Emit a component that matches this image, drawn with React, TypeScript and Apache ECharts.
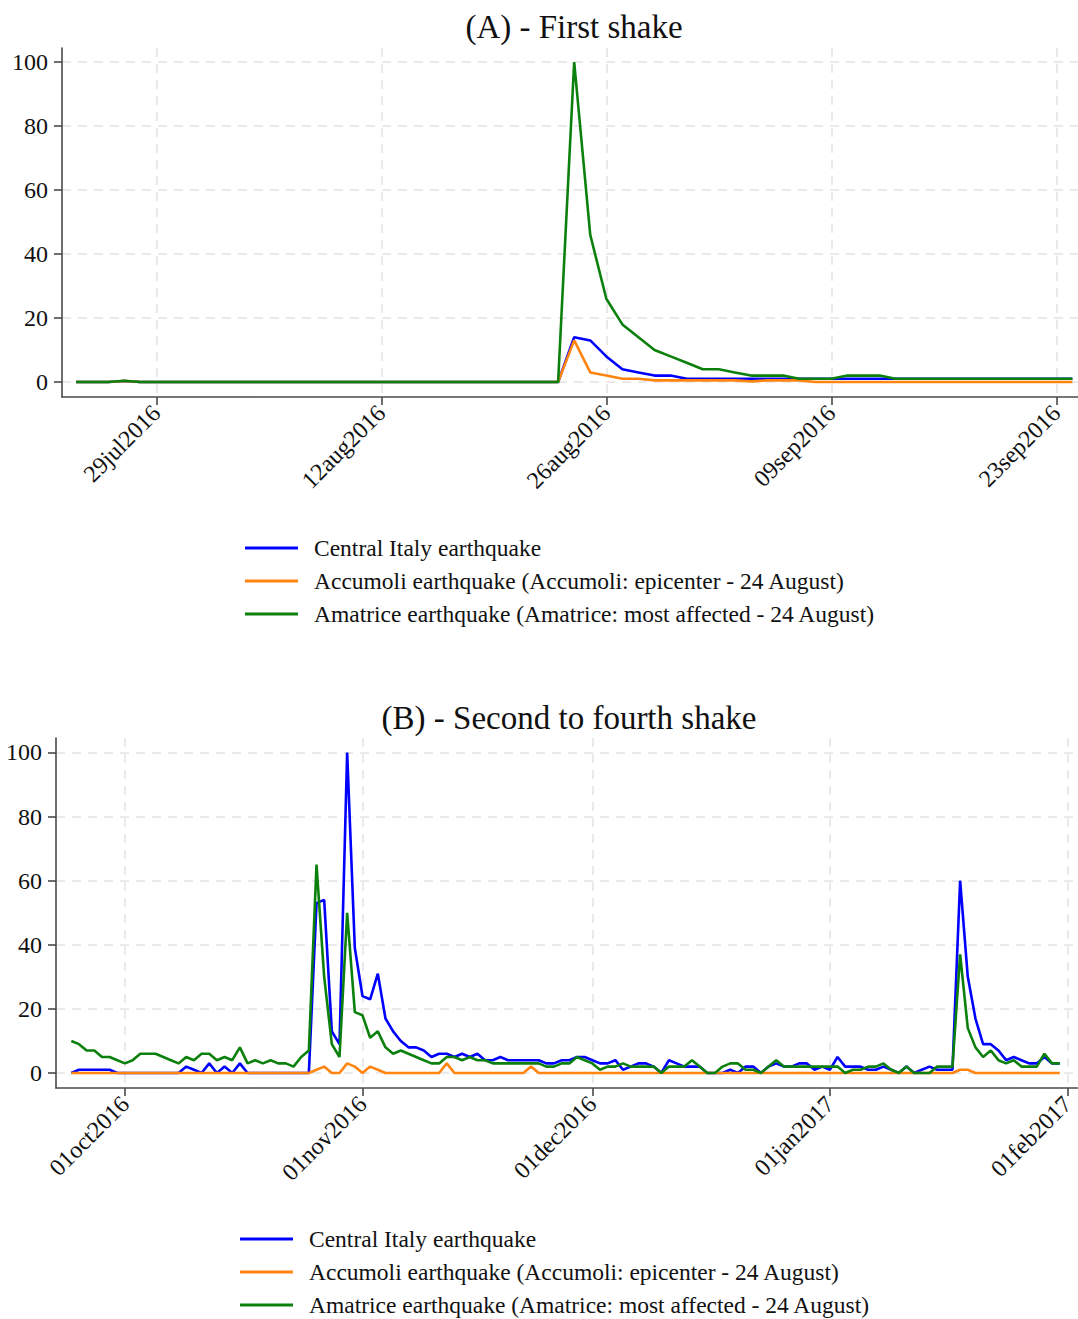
import React, { useEffect, useRef } from "react";
import * as echarts from "echarts";

const DAY = 86400000;
const FONT = "Liberation Serif";

const SERIES_NAMES = [
  "Central Italy earthquake",
  "Accumoli earthquake (Accumoli: epicenter - 24 August)",
  "Amatrice earthquake (Amatrice: most affected - 24 August)",
];
const COLORS = ["#0000ff", "#ff8410", "#0c800c"];

// Panel A: daily values from 24 Jul 2016 to 24 Sep 2016
const aStartDate = "2016-07-24";
const aBlue = [
  0, 0, 0, 0.3, 0, 0, 0, 0, 0, 0,
  0, 0, 0, 0, 0, 0, 0, 0, 0, 0,
  0, 0, 0, 0, 0, 0, 0, 0, 0, 0,
  0, 14, 13, 8, 4, 3, 2, 2, 1, 1,
  1, 1, 1, 1, 1, 1, 1, 1, 1, 1,
  1, 1, 1, 1, 1, 1, 1, 1, 1, 1,
  1, 1, 1,
];
const aOrange = [
  0, 0, 0, 0.3, 0, 0, 0, 0, 0, 0,
  0, 0, 0, 0, 0, 0, 0, 0, 0, 0,
  0, 0, 0, 0, 0, 0, 0, 0, 0, 0,
  0, 13, 3, 2, 1, 1, 0.5, 0.5, 0.5, 0.5,
  0.5, 0.5, 0.2, 0.5, 0.5, 0.5, 0, 0, 0, 0,
  0, 0, 0, 0, 0, 0, 0, 0, 0, 0,
  0, 0, 0,
];
const aGreen = [
  0, 0, 0, 0.4, 0, 0, 0, 0, 0, 0,
  0, 0, 0, 0, 0, 0, 0, 0, 0, 0,
  0, 0, 0, 0, 0, 0, 0, 0, 0, 0,
  0, 100, 46, 26, 18, 14, 10, 8, 6, 4,
  4, 3, 2, 2, 2, 1, 1, 1, 2, 2,
  2, 1, 1, 1, 1, 1, 1, 1, 1, 1,
  1, 1, 1,
];
const aTickDates = ["2016-07-29", "2016-08-12", "2016-08-26", "2016-09-09", "2016-09-23"];

// Panel B: daily values from 24 Sep 2016 to 31 Jan 2017
const bStartDate = "2016-09-24";
const bBlue = [
  0, 1, 1, 1, 1, 1, 0, 0, 0, 0,
  0, 0, 0, 0, 0, 2, 1, 0, 3, 0,
  2, 0, 3, 0, 0, 0, 0, 0, 0, 0,
  0, 0, 53, 54, 13, 9, 100, 39, 24, 23,
  31, 17, 13, 10, 8, 8, 7, 5, 6, 6,
  5, 6, 5, 6, 4, 4, 5, 4, 4, 4,
  4, 4, 3, 3, 4, 4, 5, 5, 4, 3,
  3, 4, 1, 2, 3, 3, 2, 0, 4, 3,
  2, 2, 2, 0, 0, 0, 1, 0, 2, 2,
  0, 2, 3, 2, 2, 3, 3, 1, 2, 1,
  5, 2, 2, 2, 1, 1, 2, 1, 0, 2,
  0, 1, 2, 1, 1, 1, 60, 30, 17, 9,
  9, 7, 4, 5, 4, 3, 3, 5, 3, 3,
];
const bOrange = [
  0, 0, 0, 0, 0, 0, 0, 0, 0, 0,
  0, 0, 0, 0, 0, 0, 0, 0, 0, 0,
  0, 0, 0, 0, 0, 0, 0, 0, 0, 0,
  0, 0, 1, 2, 0, 0, 3, 2, 0, 2,
  1, 0, 0, 0, 0, 0, 0, 0, 0, 3,
  0, 0, 0, 0, 0, 0, 0, 0, 0, 0,
  2, 0, 0, 0, 0, 0, 0, 0, 0, 0,
  0, 0, 0, 0, 0, 0, 0, 0, 0, 0,
  0, 0, 0, 0, 0, 0, 0, 0, 0, 0,
  0, 0, 0, 0, 0, 0, 0, 0, 0, 0,
  0, 0, 0, 0, 0, 0, 0, 0, 0, 0,
  0, 0, 0, 0, 0, 0, 1, 1, 0, 0,
  0, 0, 0, 0, 0, 0, 0, 0, 0, 0,
];
const bGreen = [
  10, 9, 7, 7, 5, 5, 4, 3, 4, 6,
  6, 6, 5, 4, 3, 5, 4, 6, 6, 4,
  5, 4, 8, 3, 4, 3, 4, 3, 3, 2,
  5, 7, 65, 30, 9, 5, 50, 19, 18, 11,
  13, 8, 6, 7, 6, 5, 4, 3, 3, 5,
  5, 4, 5, 4, 4, 3, 3, 3, 3, 3,
  3, 3, 2, 2, 3, 3, 5, 4, 3, 1,
  2, 2, 3, 2, 2, 2, 2, 0, 2, 2,
  2, 4, 2, 0, 0, 2, 3, 3, 1, 1,
  0, 2, 4, 2, 2, 2, 2, 2, 2, 2,
  2, 0, 1, 1, 2, 2, 3, 1, 0, 2,
  0, 0, 0, 2, 2, 2, 37, 14, 8, 5,
  7, 4, 3, 4, 2, 2, 2, 6, 3, 3,
];
const bTickDates = ["2016-10-01", "2016-11-01", "2016-12-01", "2017-01-01", "2017-02-01"];

const yTicks = [0, 20, 40, 60, 80, 100];

const MONTHS = ["jan", "feb", "mar", "apr", "may", "jun", "jul", "aug", "sep", "oct", "nov", "dec"];

function utc(s: string): number {
  const [y, m, d] = s.split("-").map(Number);
  return Date.UTC(y, m - 1, d);
}
function fmtDate(v: number): string {
  const d = new Date(Math.round(v / DAY) * DAY);
  const dd = String(d.getUTCDate()).padStart(2, "0");
  return dd + MONTHS[d.getUTCMonth()] + d.getUTCFullYear();
}
function toPairs(start: string, vals: number[]) {
  const t0 = utc(start);
  return vals.map((v, i) => [t0 + i * DAY, v]);
}

const axisColor = "#4a4a4a";
const gridLine = { show: true, lineStyle: { type: [9, 7], color: "#e4e4e4", width: 1.5 } };

function xAxis(gridIndex: number, ticks: string[], min: number, max: number) {
  const vals = ticks.map(utc);
  return {
    type: "value",
    gridIndex,
    min,
    max,
    scale: true,
    axisLine: { show: true, onZero: false, lineStyle: { color: axisColor, width: 1.6 } },
    axisTick: { show: true, customValues: vals, length: 8, lineStyle: { color: axisColor, width: 1.6 } },
    axisLabel: {
      customValues: vals,
      rotate: 45,
      margin: 12,
      fontFamily: FONT,
      fontSize: 24,
      color: "#111",
      formatter: (v: number) => fmtDate(v),
    },
    splitLine: gridLine,
  };
}
function yAxis(gridIndex: number, min: number, max: number) {
  return {
    type: "value",
    gridIndex,
    min,
    max,
    axisLine: { show: true, onZero: false, lineStyle: { color: axisColor, width: 1.6 } },
    axisTick: { show: true, customValues: yTicks, length: 8, lineStyle: { color: axisColor, width: 1.6 } },
    axisLabel: { customValues: yTicks, margin: 14, fontFamily: FONT, fontSize: 24, color: "#111" },
    splitLine: gridLine,
  };
}
function lineSeries(idx: number, axis: number, start: string, vals: number[]) {
  return {
    type: "line",
    name: SERIES_NAMES[idx],
    xAxisIndex: axis,
    yAxisIndex: axis,
    data: toPairs(start, vals),
    symbol: "none",
    showSymbol: false,
    lineStyle: { width: 2.6, color: COLORS[idx] },
    itemStyle: { color: COLORS[idx] },
    color: COLORS[idx],
    z: 2 + idx,
  };
}
function legend(left: number, top: number) {
  return {
    data: SERIES_NAMES,
    orient: "vertical",
    left,
    top,
    height: 110,
    padding: 0,
    icon: "rect",
    itemWidth: 53,
    itemHeight: 3,
    itemGap: 9,
    selectedMode: false,
    textStyle: { fontFamily: FONT, fontSize: 23.5, lineHeight: 24, color: "#111", padding: [0, 0, 0, 11] },
  };
}

export default function App() {
  const ref = useRef<HTMLDivElement>(null);
  useEffect(() => {
    document.body.style.margin = "0";
    if (!ref.current) return;
    const chart = echarts.init(ref.current, undefined, { renderer: "svg" });
    const a0 = utc("2016-07-29");
    const b0 = utc("2016-10-01");
    chart.setOption({
      animation: false,
      backgroundColor: "#ffffff",
      textStyle: { fontFamily: FONT },
      grid: [
        { left: 62, top: 48, width: 1016, height: 349 },
        { left: 56, top: 738, width: 1022, height: 350 },
      ],
      xAxis: [
        xAxis(0, aTickDates, a0 - 5.87 * DAY, a0 + 57.35 * DAY),
        xAxis(1, bTickDates, b0 - 9.0 * DAY, b0 + 124.3 * DAY),
      ],
      yAxis: [yAxis(0, -4.6875, 104.375), yAxis(1, -4.68, 104.52)],
      legend: [legend(245, 536), legend(240, 1227)],
      graphic: [
        {
          type: "text",
          x: 574,
          y: 27,
          style: { text: "(A) - First shake", fontFamily: FONT, fontSize: 33, fill: "#111", align: "center", verticalAlign: "middle" },
        },
        {
          type: "text",
          x: 569,
          y: 718,
          style: { text: "(B) - Second to fourth shake", fontFamily: FONT, fontSize: 33, fill: "#111", align: "center", verticalAlign: "middle" },
        },
      ],
      series: [
        lineSeries(0, 0, aStartDate, aBlue),
        lineSeries(1, 0, aStartDate, aOrange),
        lineSeries(2, 0, aStartDate, aGreen),
        lineSeries(0, 1, bStartDate, bBlue),
        lineSeries(1, 1, bStartDate, bOrange),
        lineSeries(2, 1, bStartDate, bGreen),
      ],
    });
    return () => chart.dispose();
  }, []);
  return <div ref={ref} style={{ width: 1078, height: 1319 }} />;
}
